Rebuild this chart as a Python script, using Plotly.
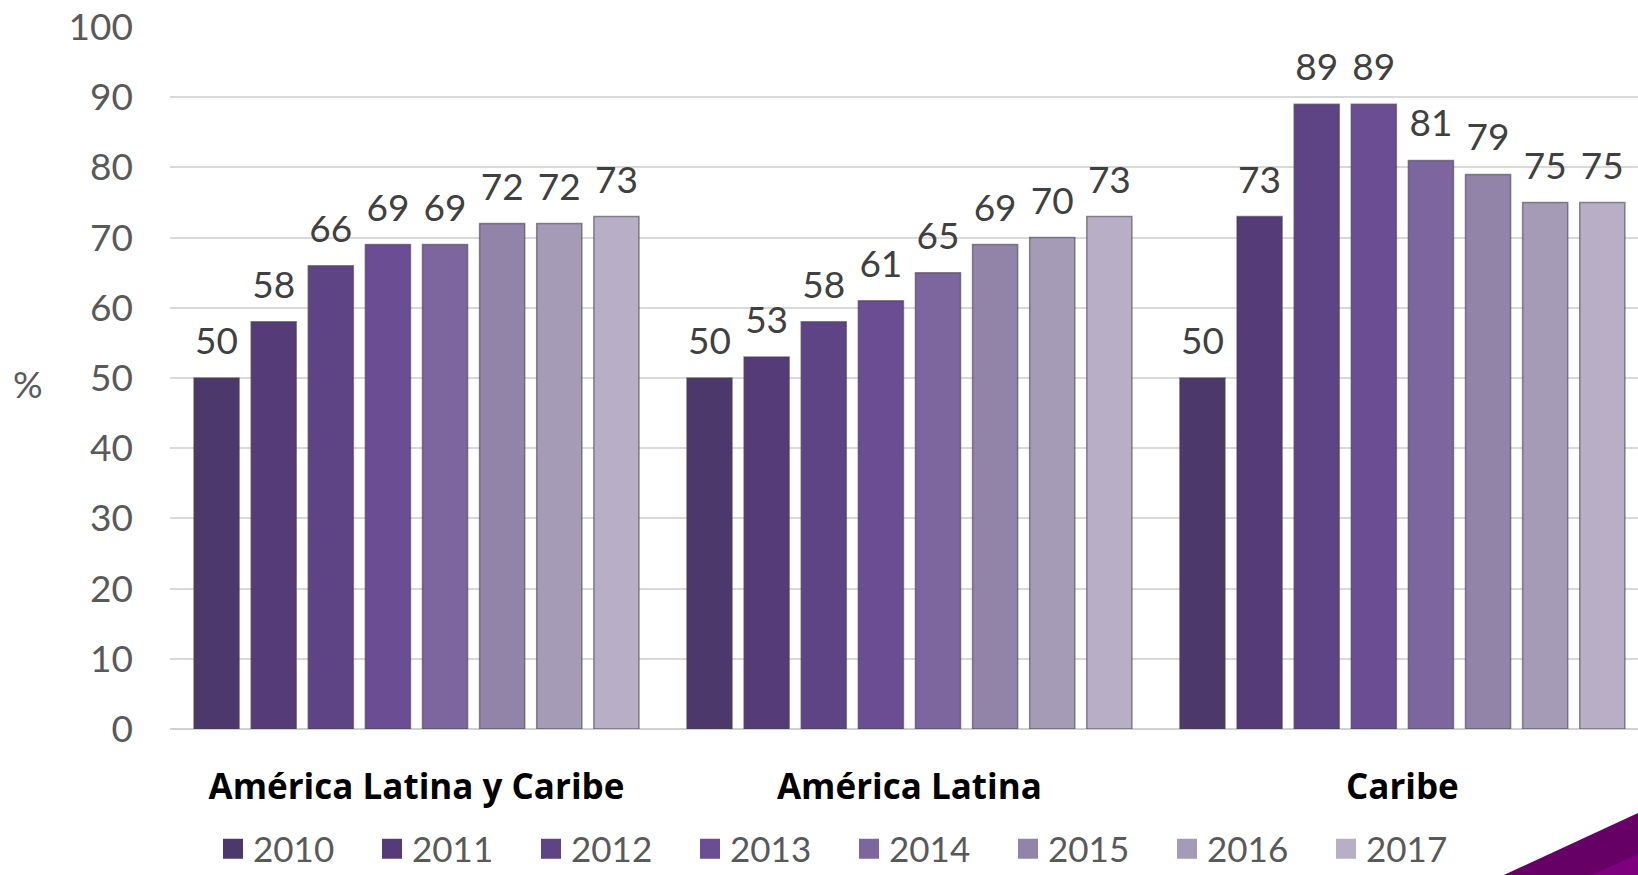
import plotly.graph_objects as go

categories = ["América Latina y Caribe", "América Latina", "Caribe"]
years = ["2010", "2011", "2012", "2013", "2014", "2015", "2016", "2017"]
v2010 = [50, 50, 50]
v2011 = [58, 53, 73]
v2012 = [66, 58, 89]
v2013 = [69, 61, 89]
v2014 = [69, 65, 81]
v2015 = [72, 69, 79]
v2016 = [72, 70, 75]
v2017 = [73, 73, 75]
series = [v2010, v2011, v2012, v2013, v2014, v2015, v2016, v2017]
colors = ["#4d386b", "#553c78", "#5e4485", "#6b4d93", "#7d659d", "#9283a9", "#a59bb6", "#b8afc6"]
y_ticks = [0, 10, 20, 30, 40, 50, 60, 70, 80, 90, 100]

FONT = "Lato"
W, H = 1638, 875
L, R, T, B = 170, 0, 27, 146
pw, ph = W - L - R, H - T - B

fig = go.Figure()
for yr, vals, c in zip(years, series, colors):
    fig.add_trace(go.Bar(
        x=categories, y=vals, name=yr, marker=dict(color=c, line=dict(color="rgba(70,65,80,0.6)", width=1.5)),
        showlegend=False, hoverinfo="x+y+name"))
for yr, vals in zip(years, series):
    fig.add_trace(go.Scatter(
        x=categories, y=vals, mode="markers+text", text=[str(v) for v in vals],
        textposition="top center", textfont=dict(family=FONT, size=37, color="#404040"),
        marker=dict(size=22, color="rgba(0,0,0,0)"), showlegend=False, hoverinfo="skip",
        cliponaxis=False))
for yr, c in zip(years, colors):
    fig.add_trace(go.Scatter(
        x=[None], y=[None], mode="markers", name=yr, xaxis="x2", yaxis="y2",
        marker=dict(symbol="square", size=16, color=c, line=dict(color=c, width=4))))

def px2paper_x(p):
    return (p - L) / pw

def px2paper_y(p):
    return (H - B - p) / ph

dark = [(1493, 880), (1640, 812), (1640, 880)]
light = [(1581, 880), (1640, 853), (1640, 880)]
for poly, col in ((dark, "#660066"), (light, "#7f007f")):
    path = "M " + " L ".join(f"{px2paper_x(a):.4f},{px2paper_y(b):.4f}" for a, b in poly) + " Z"
    fig.add_shape(type="path", path=path, xref="paper", yref="paper", fillcolor=col, line=dict(width=0), layer="above")

fig.add_annotation(text="%", xref="paper", yref="paper", x=px2paper_x(28), y=px2paper_y(383),
                   xanchor="center", yanchor="middle",
                   showarrow=False, font=dict(family=FONT, size=37, color="#595959"))

fig.update_layout(
    width=W, height=H, margin=dict(l=L, r=R, t=T, b=B, autoexpand=False),
    paper_bgcolor="white", plot_bgcolor="white",
    barmode="group", bargap=0.073, bargroupgap=0.21,
    scattermode="group", scattergap=0.073,
    font=dict(family=FONT, color="#595959"),
    xaxis=dict(range=[-0.5, 2.478], showgrid=False, ticks="",
               tickfont=dict(family="Open Sans", size=35, color="black", weight="bold"),
               ticklabelstandoff=34, showline=False),
    yaxis=dict(range=[0, 100], tickvals=y_ticks, gridcolor="#d9d9d9", gridwidth=2, zeroline=True, zerolinecolor="#d0d0d0",
               zerolinewidth=2, tickfont=dict(family=FONT, size=37, color="#595959"), ticklabelstandoff=36, showline=False),
    xaxis2=dict(visible=False, overlaying="x"),
    yaxis2=dict(visible=False, overlaying="y"),
    legend=dict(orientation="h", x=px2paper_x(213), xanchor="left", y=px2paper_y(849), yanchor="middle",
                font=dict(family=FONT, size=35, color="#595959"), entrywidth=114, bgcolor="rgba(0,0,0,0)"),
    showlegend=True,
)

fig.write_html("out.html", config={"displayModeBar": False},
               post_script="document.body.style.margin='0';document.body.style.overflow='hidden';")
